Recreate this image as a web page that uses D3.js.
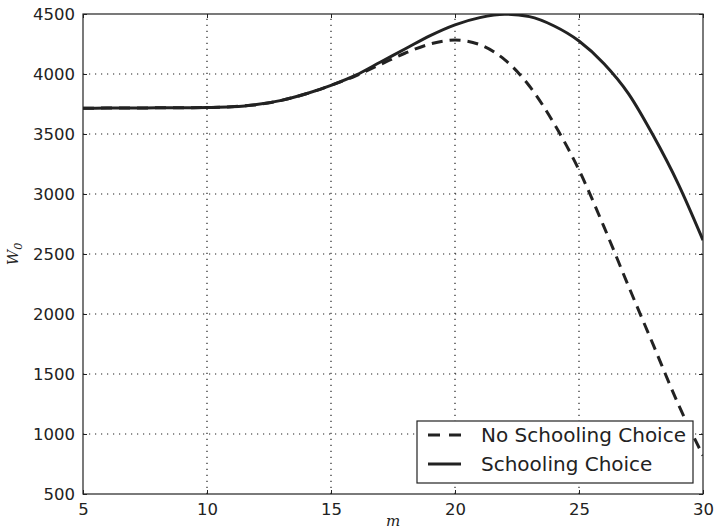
<!DOCTYPE html>
<html>
<head>
<meta charset="utf-8">
<script src="https://cdn.jsdelivr.net/npm/d3@7"></script>
<style>
  body { margin: 0; background: #fff; }
  svg { display: block; }
</style>
</head>
<body>
<div id="chart"></div>
<script>
// m values and W0 for both series
const mValues = [5, 6, 7, 8, 9, 10, 11, 12, 13, 14, 15, 16, 17, 18, 19, 20, 21, 22, 23, 24, 25, 26, 27, 28, 29, 30];
const schooling = [3715, 3716, 3717, 3718, 3719, 3721, 3727, 3745, 3780, 3835, 3905, 3990, 4100, 4210, 4320, 4410, 4470, 4498, 4478, 4400, 4275, 4088, 3835, 3485, 3085, 2615];
const noSchooling = [3715, 3716, 3717, 3718, 3719, 3721, 3727, 3745, 3780, 3835, 3905, 3985, 4080, 4175, 4250, 4283, 4245, 4120, 3900, 3585, 3200, 2730, 2230, 1740, 1250, 820];
const xTicks = [5, 10, 15, 20, 25, 30];
const yTicks = [500, 1000, 1500, 2000, 2500, 3000, 3500, 4000, 4500];
const seriesNames = ['No Schooling Choice', 'Schooling Choice'];

const width = 714, height = 531;
const margin = { top: 14, right: 11, bottom: 37, left: 83 };

const svg = d3.select('#chart')
  .append('svg')
  .attr('width', width)
  .attr('height', height);

const x = d3.scaleLinear().domain([5, 30]).range([margin.left, width - margin.right]);
const y = d3.scaleLinear().domain([500, 4500]).range([height - margin.bottom, margin.top]);

svg.append('defs').append('clipPath').attr('id', 'clip')
  .append('rect')
  .attr('x', margin.left).attr('y', margin.top)
  .attr('width', x(30) - x(5)).attr('height', y(500) - y(4500));

// grid
const grid = svg.append('g').attr('stroke', '#222').attr('stroke-width', 1.2).attr('stroke-dasharray', '1.2,4.8');
grid.selectAll('.gx').data(xTicks.slice(1, -1)).enter().append('line')
  .attr('x1', d => x(d)).attr('x2', d => x(d))
  .attr('y1', y(500)).attr('y2', y(4500));
grid.selectAll('.gy').data(yTicks.slice(1, -1)).enter().append('line')
  .attr('x1', x(5)).attr('x2', x(30))
  .attr('y1', d => y(d)).attr('y2', d => y(d));

// lines
const line = d3.line().x((d, i) => x(mValues[i])).y(d => y(d)).curve(d3.curveMonotoneX);
const plot = svg.append('g').attr('clip-path', 'url(#clip)');
plot.append('path').datum(noSchooling)
  .attr('d', line).attr('fill', 'none').attr('stroke', '#222')
  .attr('stroke-width', 3).attr('stroke-dasharray', '11,7');
plot.append('path').datum(schooling)
  .attr('d', line).attr('fill', 'none').attr('stroke', '#222')
  .attr('stroke-width', 3);

// axes (ticks inward, on both sides)
const fontFam = 'DejaVu Sans, sans-serif';
const styleAxis = g => {
  g.select('.domain').remove();
  g.selectAll('.tick line').attr('stroke', '#222').attr('stroke-width', 1);
  g.selectAll('.tick text').attr('fill', '#222').style('font-family', fontFam).style('font-size', '16.5px');
};
svg.append('g').attr('transform', `translate(0,${y(500)})`)
  .call(d3.axisBottom(x).tickValues(xTicks).tickSize(-4).tickPadding(9).tickFormat(d3.format('d')))
  .call(styleAxis);
svg.append('g').attr('transform', `translate(0,${y(4500)})`)
  .call(d3.axisTop(x).tickValues(xTicks).tickSize(-4).tickFormat(''))
  .call(styleAxis);
svg.append('g').attr('transform', `translate(${x(5)},0)`)
  .call(d3.axisLeft(y).tickValues(yTicks).tickSize(-4).tickPadding(8).tickFormat(d3.format('d')))
  .call(styleAxis);
svg.append('g').attr('transform', `translate(${x(30)},0)`)
  .call(d3.axisRight(y).tickValues(yTicks).tickSize(-4).tickFormat(''))
  .call(styleAxis);

// frame
svg.append('rect')
  .attr('x', x(5)).attr('y', y(4500))
  .attr('width', x(30) - x(5)).attr('height', y(500) - y(4500))
  .attr('fill', 'none').attr('stroke', '#222').attr('stroke-width', 1.2);

// axis labels
svg.append('text')
  .attr('x', (x(5) + x(30)) / 2).attr('y', height - 5)
  .attr('text-anchor', 'middle')
  .style('font-family', 'DejaVu Serif, serif').style('font-style', 'italic').style('font-size', '15px')
  .attr('fill', '#222').text('m');
const yl = svg.append('text')
  .attr('transform', `translate(18,${(y(500) + y(4500)) / 2}) rotate(-90)`)
  .attr('text-anchor', 'middle')
  .style('font-family', 'DejaVu Serif, serif').style('font-style', 'italic').style('font-size', '15px')
  .attr('fill', '#222');
yl.append('tspan').text('W');
yl.append('tspan').attr('dy', 4).style('font-size', '11px').text('0');

// legend
const lg = svg.append('g').attr('transform', 'translate(417,421)');
lg.append('rect').attr('width', 276).attr('height', 62)
  .attr('fill', '#fff').attr('stroke', '#222').attr('stroke-width', 1.2);
const rows = lg.selectAll('.row').data(seriesNames).enter().append('g')
  .attr('transform', (d, i) => `translate(0,${14 + i * 29})`);
rows.append('line').attr('x1', 11).attr('x2', 44).attr('y1', 0).attr('y2', 0)
  .attr('stroke', '#222').attr('stroke-width', 3)
  .attr('stroke-dasharray', (d, i) => i === 0 ? '12,9' : null);
rows.append('text').attr('x', 64).attr('dy', '0.36em')
  .style('font-family', fontFam).style('font-size', '20px').attr('fill', '#222')
  .text(d => d);
</script>
</body>
</html>
